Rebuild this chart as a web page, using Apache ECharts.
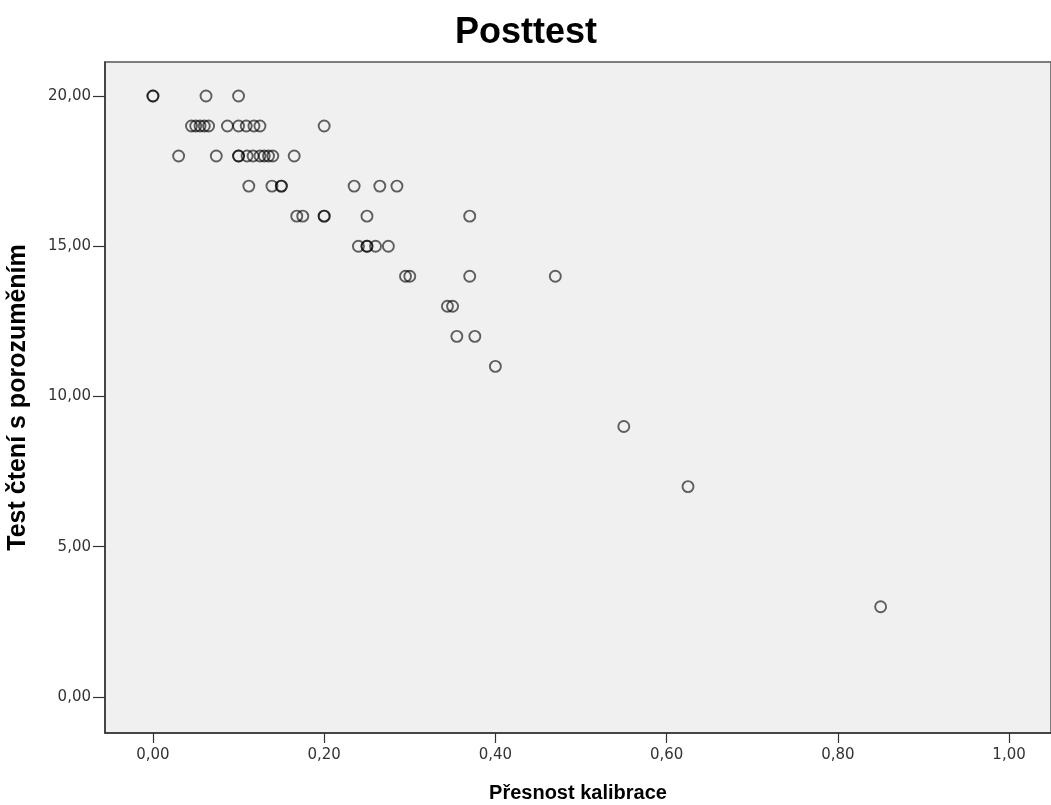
<!DOCTYPE html>
<html>
<head>
<meta charset="utf-8">
<script src="https://cdn.jsdelivr.net/npm/echarts@6/dist/echarts.min.js"></script>
<style>
html,body{margin:0;padding:0;background:#fff;}
#chart{width:1051px;height:805px;}
</style>
</head>
<body>
<div id="chart"></div>
<script>
// Data (x = Přesnost kalibrace, y = Test čtení s porozuměním)
const calibration = [
  0.00, 0.00, 0.062, 0.10,
  0.045, 0.05, 0.055, 0.06, 0.065, 0.087, 0.10, 0.109, 0.118, 0.125, 0.20,
  0.03, 0.074, 0.10, 0.10, 0.11, 0.117, 0.125, 0.13, 0.135, 0.14, 0.165,
  0.112, 0.139, 0.15, 0.15, 0.235, 0.265, 0.285,
  0.168, 0.175, 0.20, 0.20, 0.25, 0.37,
  0.24, 0.25, 0.25, 0.26, 0.275,
  0.295, 0.30, 0.37, 0.47,
  0.344, 0.35,
  0.355, 0.376,
  0.40,
  0.55,
  0.625,
  0.85
];
const reading = [
  20, 20, 20, 20,
  19, 19, 19, 19, 19, 19, 19, 19, 19, 19, 19,
  18, 18, 18, 18, 18, 18, 18, 18, 18, 18, 18,
  17, 17, 17, 17, 17, 17, 17,
  16, 16, 16, 16, 16, 16,
  15, 15, 15, 15, 15,
  14, 14, 14, 14,
  13, 13,
  12, 12,
  11,
  9,
  7,
  3
];
const xTicks = [0, 0.2, 0.4, 0.6, 0.8, 1.0];
const yTicks = [0, 5, 10, 15, 20];
const titleText = 'Posttest';
const xName = 'Přesnost kalibrace';
const yName = 'Test čtení s porozuměním';

const points = calibration.map((x, i) => [x, reading[i]]);
const fmt = v => Number(v).toFixed(2).replace('.', ',');

const chart = echarts.init(document.getElementById('chart'), null, {renderer: 'canvas'});
chart.setOption({
  animation: false,
  backgroundColor: '#ffffff',
  title: {
    text: titleText,
    left: 450,
    top: 10,
    textStyle: {fontFamily: 'Liberation Sans', fontWeight: 'bold', fontSize: 36, color: '#000'}
  },
  grid: {
    left: 105, right: 0, top: 62, bottom: 72,
    containLabel: false,
    outerBoundsMode: 'none',
    show: true, backgroundColor: '#f0f0f0', borderColor: '#555', borderWidth: 1.5
  },
  xAxis: {
    type: 'value',
    min: -0.056, max: 1.049,
    name: xName,
    nameLocation: 'middle',
    nameGap: 50,
    nameTextStyle: {fontFamily: 'Liberation Sans', fontWeight: 'bold', fontSize: 20, color: '#000'},
    axisLine: {show: true, onZero: false, lineStyle: {color: '#333', width: 1.5}},
    axisTick: {show: true, inside: false, length: 10, customValues: xTicks, lineStyle: {color: '#333', width: 1.2}},
    axisLabel: {customValues: xTicks, formatter: fmt, margin: 15, fontFamily: 'DejaVu Sans', fontSize: 15, color: '#333'},
    splitLine: {show: false}
  },
  yAxis: {
    type: 'value',
    min: -1.2, max: 21.13,
    name: yName,
    nameLocation: 'middle',
    nameGap: 74,
    nameRotate: 90,
    nameTextStyle: {fontFamily: 'Liberation Sans', fontWeight: 'bold', fontSize: 25, color: '#000'},
    axisLine: {show: true, onZero: false, lineStyle: {color: '#333', width: 1.5}},
    axisTick: {show: true, inside: false, length: 12, customValues: yTicks, lineStyle: {color: '#333', width: 1.2}},
    axisLabel: {customValues: yTicks, formatter: fmt, margin: 14, fontFamily: 'DejaVu Sans', fontSize: 15, color: '#333'},
    splitLine: {show: false}
  },
  series: [{
    type: 'scatter',
    data: points,
    symbol: 'circle',
    symbolSize: 11,
    itemStyle: {color: 'rgba(0,0,0,0)', borderColor: 'rgba(0,0,0,0.76)', borderWidth: 1.9},
    emphasis: {disabled: true}
  }]
});
</script>
</body>
</html>
